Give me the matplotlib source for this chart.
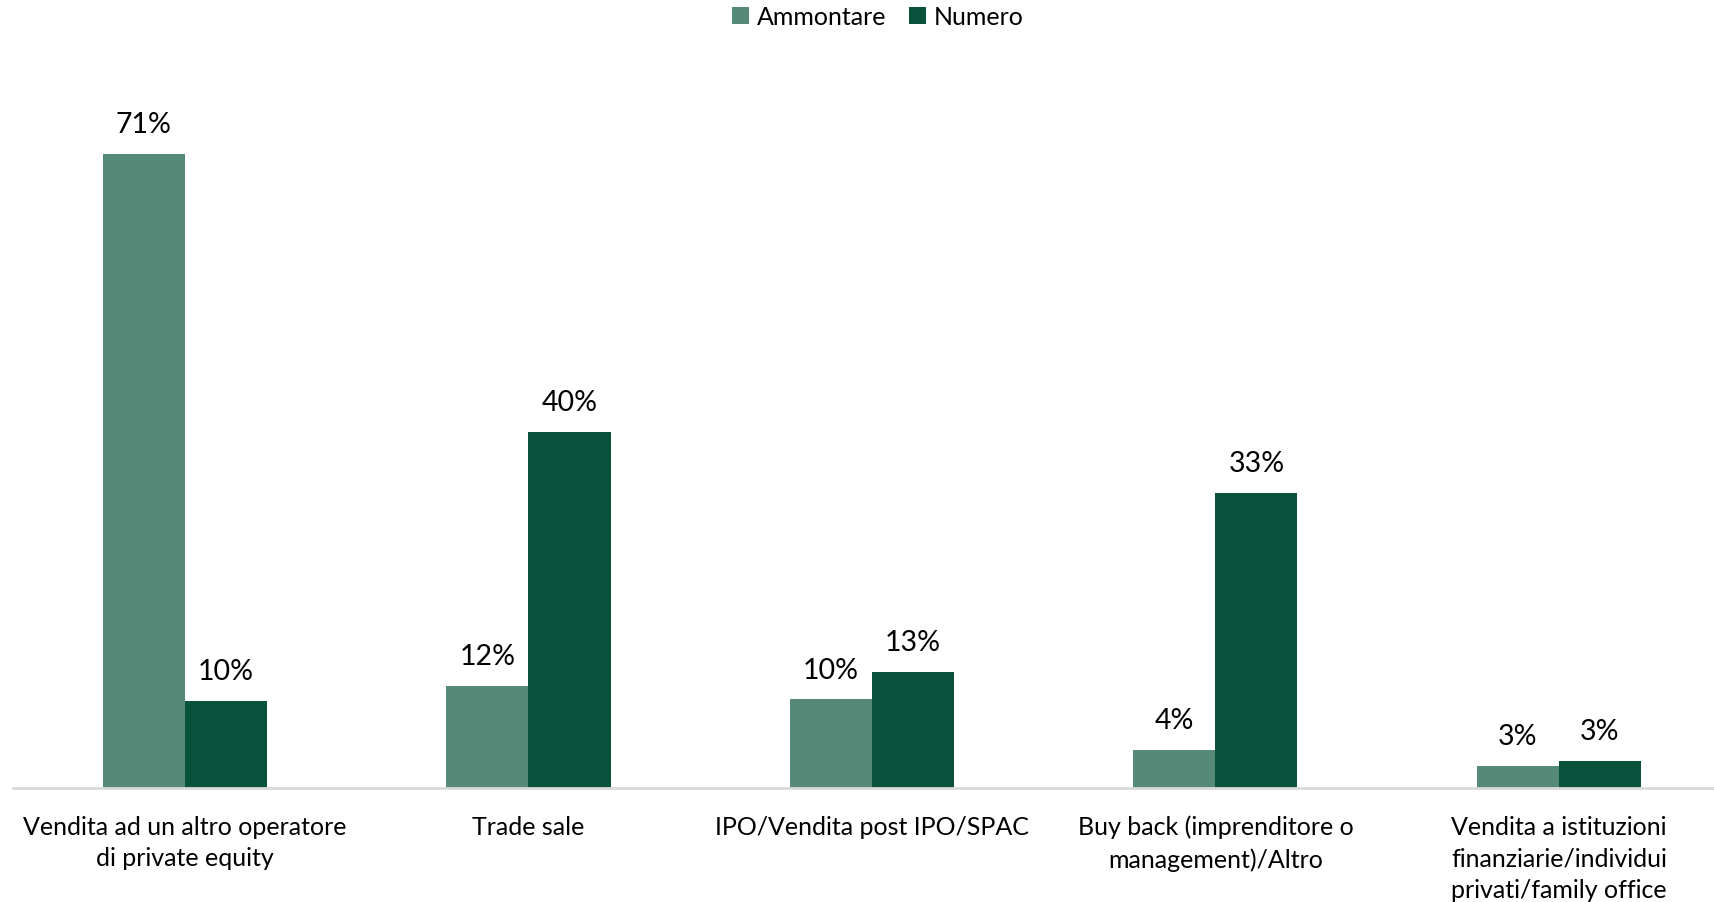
import numpy as np
import matplotlib.pyplot as plt

categories = [
    "Vendita ad un altro operatore\ndi private equity",
    "Trade sale",
    "IPO/Vendita post IPO/SPAC",
    "Buy back (imprenditore o\nmanagement)/Altro",
    "Vendita a istituzioni\nfinanziarie/individui\nprivati/family office",
]
ammontare = [71.2, 11.5, 10.0, 4.3, 2.5]
numero = [9.8, 40.0, 13.1, 33.2, 3.1]
ammontare_labels = ["71%", "12%", "10%", "4%", "3%"]
numero_labels = ["10%", "40%", "13%", "33%", "3%"]

light = "#558A78"
dark = "#0B523D"

plt.rcParams['font.family'] = ['Lato', 'DejaVu Sans']

fig = plt.figure(figsize=(17.14, 9.03), dpi=100)
ax = fig.add_axes([0.0077, 0.1258, 1.002, 0.826])

x = np.arange(len(categories))
w = 0.239
b1 = ax.bar(x - w / 2, ammontare, w, color=light, label="Ammontare")
b2 = ax.bar(x + w / 2, numero, w, color=dark, label="Numero")

for bars, labels in [(b1, ammontare_labels), (b2, numero_labels)]:
    for rect, lab in zip(bars, labels):
        ax.annotate(lab, (rect.get_x() + rect.get_width() / 2, rect.get_height()),
                    xytext=(0, 12), textcoords="offset points",
                    ha="center", va="bottom", fontsize=20.5, color="#000000")

ax.set_xlim(-0.5, len(categories) - 0.5)
ax.set_ylim(0, 83.7)
ax.set_xticks(x)
ax.set_xticklabels(categories, fontsize=18, linespacing=1.45)
ax.tick_params(axis="x", length=0, pad=19)
ax.set_yticks([])
for side in ["top", "right", "left"]:
    ax.spines[side].set_visible(False)
ax.spines["bottom"].set_color("#D9D9D9")
ax.spines["bottom"].set_linewidth(2)

fig.legend(loc="upper center", bbox_to_anchor=(0.512, 1.018), ncol=2, frameon=False,
           fontsize=18, handlelength=0.7, handleheight=0.7, handletextpad=0.3,
           columnspacing=0.9)

fig.savefig("out.png", dpi=100)
